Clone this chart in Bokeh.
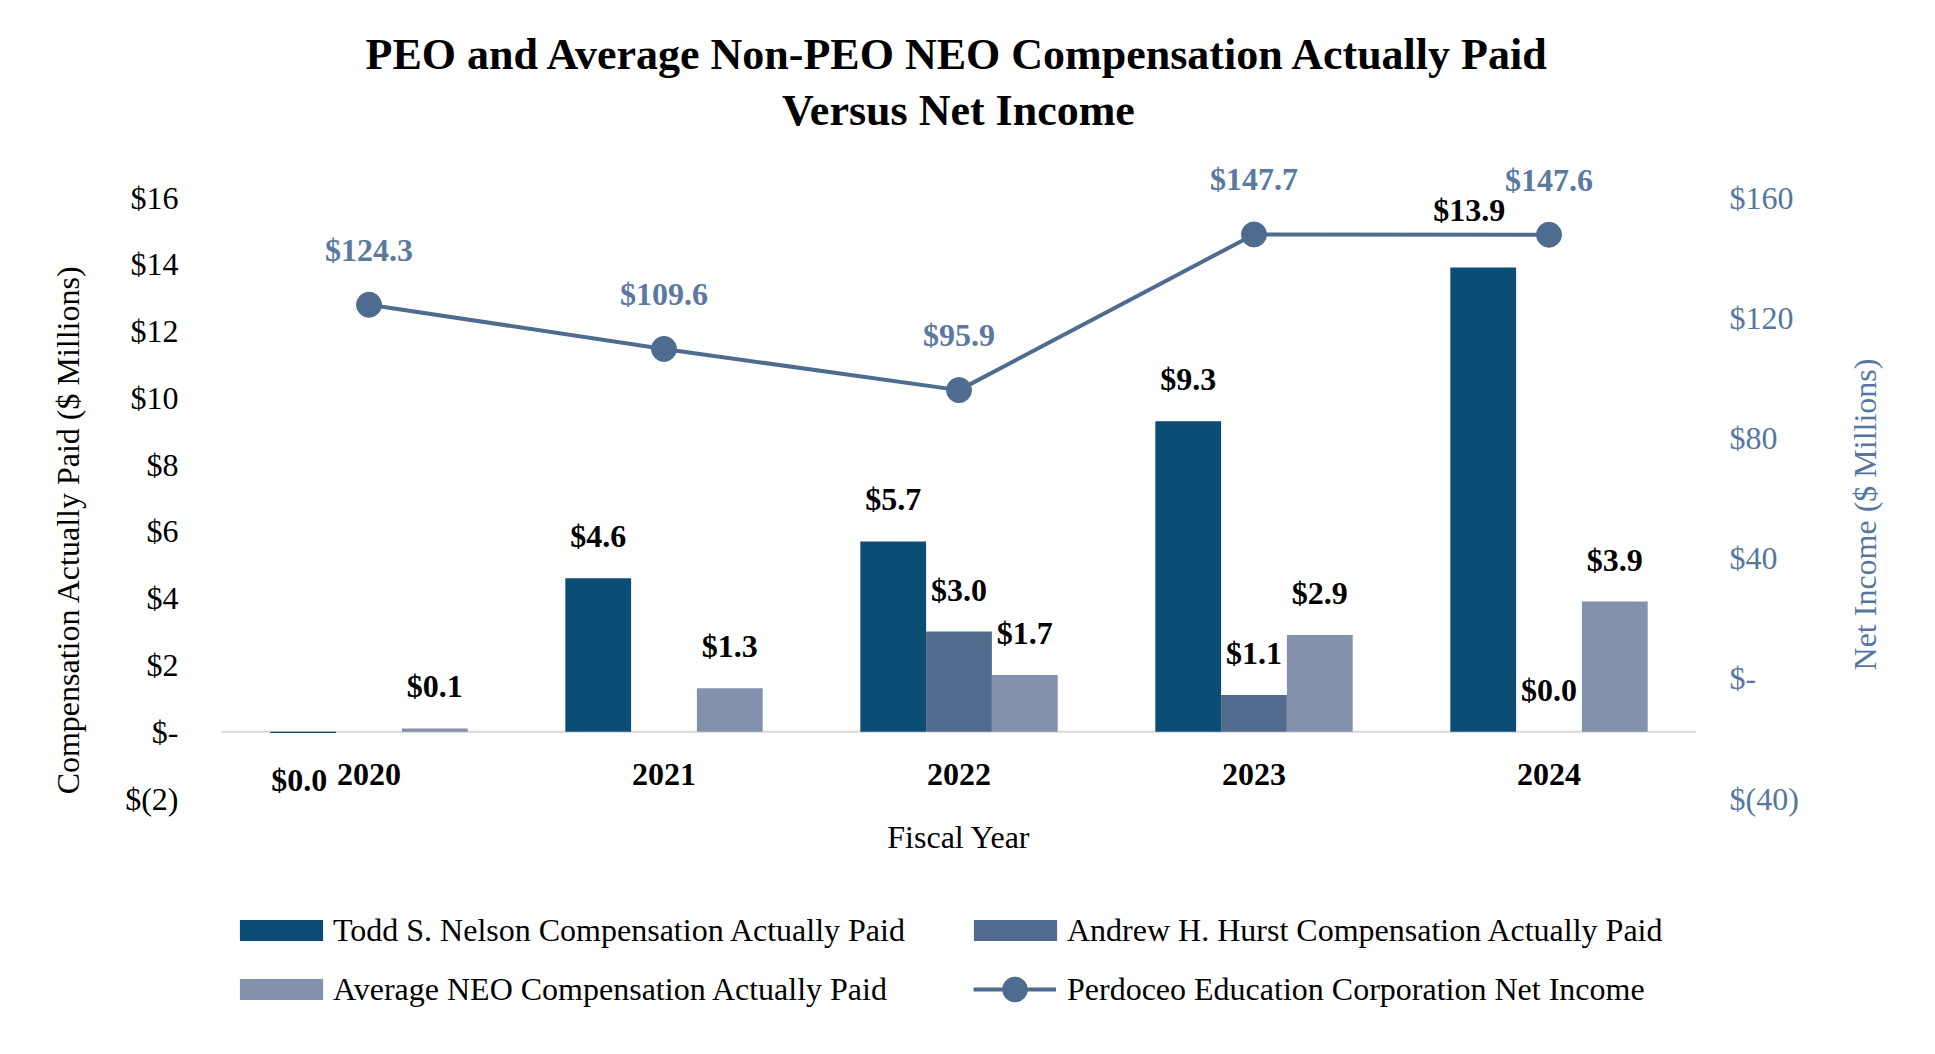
import math
from bokeh.plotting import figure
from bokeh.layouts import column
from bokeh.models import (ColumnDataSource, Range1d, LinearAxis, FixedTicker, Label,
                          LabelSet, Legend, LegendItem, FactorRange, Span)
from bokeh.transform import dodge
from bokeh.core.properties import value
from bokeh.embed import file_html
from bokeh.resources import INLINE

# ---------------- data ----------------
years = ["2020", "2021", "2022", "2023", "2024"]
todd_cap = [-0.04, 4.6, 5.7, 9.3, 13.9]
hurst_cap = [float("nan"), float("nan"), 3.0, 1.1, 0.0]
avg_neo_cap = [0.1, 1.3, 1.7, 2.9, 3.9]
net_income = [124.3, 109.6, 95.9, 147.7, 147.6]

left_limits = (-2, 16)
right_limits = (-40, 160)
left_ticks = [-2, 0, 2, 4, 6, 8, 10, 12, 14, 16]
left_tick_labels = ["$(2)", "$-", "$2", "$4", "$6", "$8", "$10", "$12", "$14", "$16"]
right_ticks = [-40, 0, 40, 80, 120, 160]
right_tick_labels = ["$(40)", "$-", "$40", "$80", "$120", "$160"]

series_names = ["Todd S. Nelson Compensation Actually Paid",
                "Andrew H. Hurst Compensation Actually Paid",
                "Average NEO Compensation Actually Paid",
                "Perdoceo Education Corporation Net Income"]
title_lines = ["PEO and Average Non-PEO NEO Compensation Actually Paid",
               "Versus Net Income"]
left_title = "Compensation Actually Paid ($ Millions)"
right_title = "Net Income ($ Millions)"
x_title = "Fiscal Year"

# ---------------- style / layout ----------------
FONT = "Liberation Serif"
C_TODD = "#0C4D76"
C_HURST = "#516A8E"
C_AVG = "#8391AC"
C_LINE = "#4E6B90"
C_LINE_TXT = "#5A7AA0"
C_RIGHT = "#56779D"
BAR_W = 0.223
OFFS = [-BAR_W, 0.0, BAR_W]
NBSP = "\u00a0"

W = 1919
TITLE_H = 140          # title strip
AXIS_SPAN_PX = 601     # pixels between left_limits[0] and left_limits[1]
EXTRA_TOP_PX = 57      # frame room above the top tick (for data labels)
MAIN_BOTTOM = 70
FRAME_H = AXIS_SPAN_PX + EXTRA_TOP_PX
LEGEND_H = 1038 - TITLE_H - (FRAME_H + MAIN_BOTTOM)


def fmt(v):
    if v is None or (isinstance(v, float) and math.isnan(v)):
        return ""
    r = round(v, 1)
    if r < 0:
        return "$(%.1f)" % (-r)
    return "$%.1f" % abs(r)


def blank_fig(h):
    f = figure(width=W, height=h, output_backend="svg", toolbar_location=None,
               x_range=Range1d(0, 1), y_range=Range1d(0, 1),
               x_axis_location=None, y_axis_location=None,
               min_border=0, outline_line_color=None,
               background_fill_color="white", border_fill_color="white")
    f.xgrid.grid_line_color = None
    f.ygrid.grid_line_color = None
    return f


# ---------------- title strip ----------------
tf = blank_fig(TITLE_H)
for txt, ytop in zip(title_lines, [54, 110]):
    tf.add_layout(Label(x=737, y=TITLE_H - ytop, x_units="screen", y_units="screen",
                        text=txt, text_align="center", text_baseline="middle",
                        text_font=FONT, text_font_size="44px",
                        text_font_style="bold", text_color="#000000"))

# ---------------- main chart ----------------
lo, hi = left_limits
per_px = (hi - lo) / AXIS_SPAN_PX
left_top = hi + EXTRA_TOP_PX * per_px
rlo, rhi = right_limits
right_top = rlo + (left_top - lo) * (rhi - rlo) / (hi - lo)

MAIN_H = FRAME_H + MAIN_BOTTOM
p = figure(x_range=FactorRange(*years), y_range=Range1d(lo, left_top),
           width=W, height=MAIN_H, output_backend="svg", toolbar_location=None,
           min_border_left=221, min_border_right=223, min_border_top=0,
           min_border_bottom=MAIN_BOTTOM, background_fill_color="white",
           border_fill_color="white", outline_line_color=None)
p.extra_y_ranges = {"ni": Range1d(rlo, right_top)}
p.xgrid.grid_line_color = None
p.ygrid.grid_line_color = None

# left axis
ya = p.yaxis[0]
ya.ticker = FixedTicker(ticks=left_ticks)
ya.major_label_overrides = {t: l for t, l in zip(left_ticks, left_tick_labels)}
ya.axis_line_color = None
ya.major_tick_line_color = None
ya.minor_tick_line_color = None
ya.major_label_text_font = FONT
ya.major_label_text_font_size = "32px"
ya.major_label_text_color = "#000000"
ya.major_label_standoff = 37
ya.axis_label = left_title + NBSP * 15
ya.axis_label_text_font = FONT
ya.axis_label_text_font_size = "32px"
ya.axis_label_text_font_style = "normal"
ya.axis_label_text_color = "#000000"
ya.axis_label_standoff = 36

# right axis (ticks); its title is a rotated label in the right panel
ra = LinearAxis(y_range_name="ni", ticker=FixedTicker(ticks=right_ticks))
ra.major_label_overrides = {t: l for t, l in zip(right_ticks, right_tick_labels)}
ra.axis_line_color = None
ra.major_tick_line_color = None
ra.minor_tick_line_color = None
ra.major_label_text_font = FONT
ra.major_label_text_font_size = "32px"
ra.major_label_text_color = C_RIGHT
ra.major_label_standoff = 27
p.add_layout(ra, "right")
p.add_layout(Label(x=63, y=FRAME_H - 374, x_units="screen", y_units="screen",
                   text=right_title, angle=math.pi / 2, text_align="center",
                   text_baseline="middle", text_font=FONT, text_font_size="32px",
                   text_color=C_RIGHT), "right")

# x axis (labels pulled up next to the zero line)
xa = p.xaxis[0]
xa.axis_line_color = None
xa.major_tick_line_color = None
xa.minor_tick_line_color = None
xa.major_label_text_font = FONT
xa.major_label_text_font_size = "32px"
xa.major_label_text_font_style = "bold"
xa.major_label_text_color = "#000000"
xa.major_label_standoff = -41
xa.axis_label = x_title
xa.axis_label_text_font = FONT
xa.axis_label_text_font_size = "32px"
xa.axis_label_text_font_style = "normal"
xa.axis_label_text_color = "#000000"
xa.axis_label_standoff = 31

# zero line (under the bars)
p.add_layout(Span(location=0, dimension="width", line_color="#D9D9D9",
                  line_width=2, level="underlay"))

# bars
bar_series = [todd_cap, hurst_cap, avg_neo_cap]
bar_colors = [C_TODD, C_HURST, C_AVG]
nudges = {(0, 4): (-14, 16), (0, 0): (-4, 0)}
for k, (vals, col, off) in enumerate(zip(bar_series, bar_colors, OFFS)):
    xoffs, yoffs = [], []
    for i, v in enumerate(vals):
        base = -47 if (not math.isnan(v) and v < 0) else 42
        dx, dy = nudges.get((k, i), (0, 0))
        xoffs.append(dx)
        yoffs.append(base + dy)
    src = ColumnDataSource(dict(year=years, top=vals,
                                lab=[fmt(v) for v in vals],
                                ly=[0 if math.isnan(v) else v for v in vals],
                                xo=xoffs, yo=yoffs))
    p.vbar(x=dodge("year", off, range=p.x_range), top="top", bottom=0,
           width=BAR_W, source=src, fill_color=col, line_color=None)
    p.add_layout(LabelSet(x=dodge("year", off, range=p.x_range), y="ly", text="lab",
                          x_offset="xo", y_offset="yo", source=src,
                          text_align="center", text_baseline="middle",
                          text_font=value(FONT), text_font_size="32px",
                          text_font_style="bold", text_color="#000000"))

# net income line
lsrc = ColumnDataSource(dict(year=years, ni=net_income,
                             lab=[fmt(v) for v in net_income]))
p.line(x="year", y="ni", y_range_name="ni", source=lsrc,
       line_color=C_LINE, line_width=4)
p.scatter(x="year", y="ni", y_range_name="ni", source=lsrc,
          marker="circle", size=25, fill_color=C_LINE, line_color=C_LINE)
p.add_layout(LabelSet(x="year", y="ni", y_range_name="ni", text="lab",
                      y_offset=55, source=lsrc, text_align="center",
                      text_baseline="middle", text_font=value(FONT),
                      text_font_size="32px", text_font_style="bold",
                      text_color=C_LINE_TXT))

# ---------------- legend strip ----------------
lf = blank_fig(LEGEND_H)
# legend-only swatch renderers (their points sit well outside the visible range)
swatch = ColumnDataSource(dict(x=[-10, -9], y=[-10, -10]))
g_todd = lf.vbar(x="x", top="y", bottom=-11, width=0.1, source=swatch,
                 fill_color=C_TODD, line_color=None)
g_hurst = lf.vbar(x="x", top="y", bottom=-11, width=0.1, source=swatch,
                  fill_color=C_HURST, line_color=None)
g_avg = lf.vbar(x="x", top="y", bottom=-11, width=0.1, source=swatch,
                fill_color=C_AVG, line_color=None)
g_line = lf.line(x="x", y="y", source=swatch, line_color=C_LINE, line_width=4)
g_dot = lf.scatter(x="x", y="y", source=swatch, marker="circle", size=25,
                   fill_color=C_LINE, line_color=C_LINE)
legend_rend = [[g_todd], [g_hurst], [g_avg], [g_line, g_dot]]
row_centers = [62, 121]     # from the top of the strip
col_starts = [8, 742]       # from the left edge of the plotting area
# (glyph box width, glyph box height, label standoff, x shift, item height)
glyph_boxes = [(104, 26, 0, 0, 37), (104, 26, 0, 0, 37),
               (104, 26, 0, 0, 37), (83, 62, 11, 10, 62)]
for idx, (name, rends) in enumerate(zip(series_names, legend_rend)):
    gw, gh, stand, shift, item_h = glyph_boxes[idx]
    rc = row_centers[idx // 2]
    cx = col_starts[idx % 2] + shift
    lg = Legend(items=[LegendItem(label=name, renderers=rends)],
                location=(cx, LEGEND_H - rc - item_h / 2),
                glyph_width=gw, glyph_height=gh, label_standoff=stand,
                padding=0, margin=0, spacing=0,
                border_line_alpha=0, background_fill_alpha=0,
                label_text_font=FONT, label_text_font_size="32px",
                label_text_color="#000000")
    lf.add_layout(lg)

layout = column(tf, p, lf, spacing=0)
open("out.html", "w").write(file_html(layout, INLINE))
